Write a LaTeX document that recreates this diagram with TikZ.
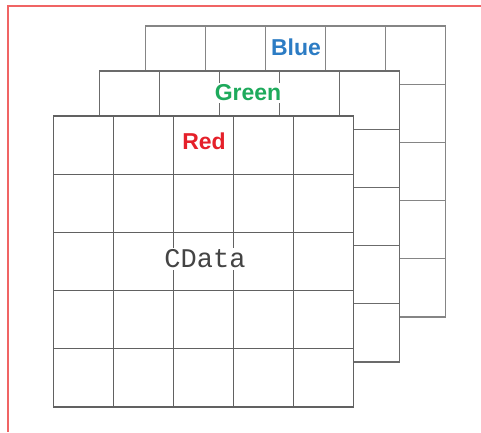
\documentclass[tikz,border=0pt]{standalone}
\usepackage{fontspec}
\newfontfamily\labelfont{Liberation Sans}
\newfontfamily\codefont{Liberation Mono}
\definecolor{framered}{HTML}{F06464}
\definecolor{bluetxt}{HTML}{2C7CC4}
\definecolor{greentxt}{HTML}{1EAA5C}
\definecolor{redtxt}{HTML}{E5202A}
\definecolor{codetxt}{HTML}{444444}
\tikzset{
  frameline/.style={draw=framered, line width=1.6pt},
  outerline/.style={draw=#1, line width=1.8pt},
  innerline/.style={draw=#1, line width=1.2pt},
  layerlabel/.style={fill=white, inner sep=1.5pt, font=\labelfont\bfseries\fontsize{23}{26}\selectfont},
  codelabel/.style={fill=white, inner sep=1.5pt, text=codetxt, font=\codefont\fontsize{27}{30}\selectfont},
}
\newcommand\layergrid[3]{%
  \begin{scope}[shift={(#1,#2)}]
    \fill[white] (0,0) rectangle (300,291);
    \foreach \xx in {60,120,180,240} \draw[innerline=#3] (\xx,0) -- (\xx,291);
    \foreach \yy in {58.2,116.4,174.6,232.8} \draw[innerline=#3] (0,\yy) -- (300,\yy);
    \draw[outerline=#3] (0,0) rectangle (300,291);
  \end{scope}}
\begin{document}
\begin{tikzpicture}[x=1pt,y=-1pt]
\useasboundingbox (0,0) rectangle (481,432);
\fill[white] (0,0) rectangle (481,432);
\coordinate (frameTR) at (481,6);
\coordinate (frameTL) at (8,6);
\coordinate (frameBL) at (8,432);
\draw[frameline] (frameTR) -- (frameTL) -- (frameBL);
% blue layer
\layergrid{145.5}{26}{black!48}
\node[layerlabel, text=bluetxt] (blue) at (296,47) {Blue};
% green layer
\layergrid{99.5}{71}{black!58}
\node[layerlabel, text=greentxt] (green) at (248,93) {Green};
% red layer
\layergrid{53.5}{116}{black!62}
\node[layerlabel, text=redtxt, fill=none] (red) at (204,141) {Red};
\node[codelabel] (cdata) at (205,259) {CData};
\end{tikzpicture}
\end{document}
